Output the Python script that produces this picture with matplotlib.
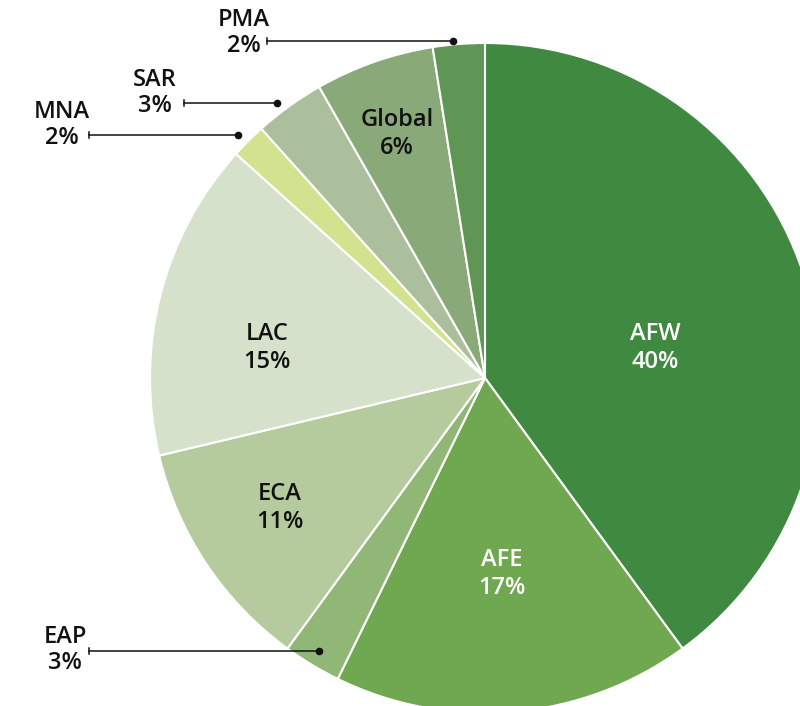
import numpy as np
import matplotlib.pyplot as plt

# share of total, clockwise from 12 o'clock
regions = ['AFW', 'AFE', 'EAP', 'ECA', 'LAC', 'MNA', 'SAR', 'Global', 'PMA']
shares = [40.0, 17.3, 2.8, 11.25, 15.4, 1.7, 3.4, 5.75, 2.5]
pct_labels = ['40%', '17%', '3%', '11%', '15%', '2%', '3%', '6%', '2%']
colors = ['#3f8940', '#6fa850', '#90b776', '#b5cb9d', '#d6e1cb',
          '#d2e28f', '#abbf9d', '#89a979', '#5f9656']

W, H = 800, 706
cx, cy, R = 485, H - 378, 335

# inside labels: (x, y) in pixels from top-left, text colour
inside = {
    'AFW': (655, 348, 'white'),
    'AFE': (502, 574, 'white'),
    'ECA': (280, 508, '#111111'),
    'LAC': (267, 348, '#111111'),
    'Global': (397, 134, '#111111'),
}
# outside labels: text centre x, text centre y, line left x, line y, dot radius factor
outside = {
    'PMA': (244, 33, 267, 41, 1.22),
    'SAR': (155, 93, 184, 103, 1.06),
    'MNA': (62, 125, 89, 135, 1.045),
    'EAP': (65, 650, 89, 651, 0.96),
}

fig = plt.figure(figsize=(W / 100, H / 100), dpi=100)
ax = fig.add_axes([0, 0, 1, 1])

wedges, _ = ax.pie(shares, colors=colors, startangle=90, counterclock=False,
                   center=(cx, cy), radius=R,
                   wedgeprops=dict(edgecolor='white', linewidth=1.5))

font = dict(family=['Open Sans', 'DejaVu Sans'], fontweight='semibold', fontsize=17)

for name, pct, w in zip(regions, pct_labels, wedges):
    if name in inside:
        x, y, c = inside[name]
        ax.text(x, H - y, f'{name}\n{pct}', ha='center', va='center',
                color=c, linespacing=1.2, **font)
    elif name in outside:
        tx, ty, lx, ly, rf = outside[name]
        mid = np.deg2rad((w.theta1 + w.theta2) / 2)
        dx = cx + R * rf * np.cos(mid)
        ax.plot([lx, dx], [H - ly, H - ly], color='#111111', lw=1.1)
        ax.plot([lx, lx], [H - ly - 3, H - ly + 3], color='#111111', lw=1.1)
        ax.plot(dx, H - ly, 'o', color='#111111', ms=4.5)
        ax.text(tx, H - ty, f'{name}\n{pct}', ha='center', va='center',
                color='#111111', linespacing=1.1, **font)

ax.set_xlim(0, W)
ax.set_ylim(0, H)
ax.set_aspect('equal')
ax.axis('off')

fig.savefig('out.png', dpi=100)
